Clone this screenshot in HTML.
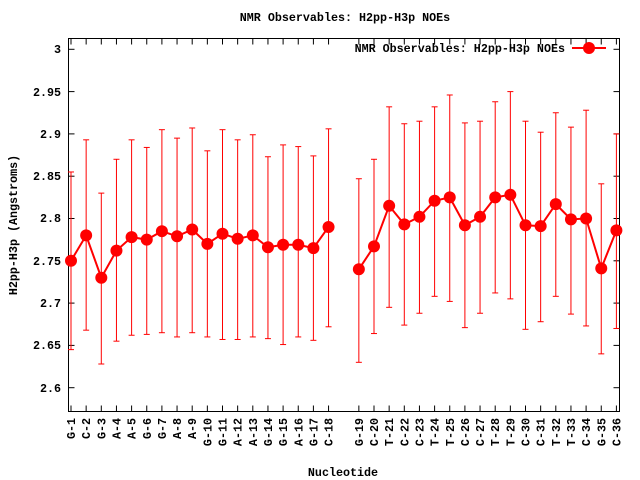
<!DOCTYPE html>
<html><head><style>
body{margin:0;background:#fff;}
svg{display:block;font-family:"Liberation Mono",monospace;font-weight:bold;font-size:11.7px;}
</style></head><body>
<svg id="s" width="640" height="480" xmlns="http://www.w3.org/2000/svg">
<rect width="640" height="480" fill="#fff"/>
<text x="345" y="21" text-anchor="middle">NMR Observables: H2pp-H3p NOEs</text>
<text x="343" y="476" text-anchor="middle">Nucleotide</text>
<text transform="translate(17,225) rotate(-90)" text-anchor="middle">H2pp-H3p (Angstroms)</text>
<g text-anchor="end">
<text x="61" y="53">3</text>
<text x="61" y="96">2.95</text>
<text x="61" y="138">2.9</text>
<text x="61" y="180">2.85</text>
<text x="61" y="222">2.8</text>
<text x="61" y="265">2.75</text>
<text x="61" y="307">2.7</text>
<text x="61" y="349">2.65</text>
<text x="61" y="392">2.6</text>
</g>
<text x="565" y="52" text-anchor="end">NMR Observables: H2pp-H3p NOEs</text>
<g id="xl" text-anchor="end"></g>
<g id="g"></g>
</svg>
<script>
var names=["G-1","C-2","G-3","A-4","A-5","G-6","G-7","A-8","A-9","G-10","G-11","A-12","A-13","G-14","G-15","A-16","G-17","C-18",null,"G-19","C-20","T-21","C-22","C-23","T-24","T-25","C-26","C-27","T-28","T-29","C-30","C-31","T-32","T-33","C-34","G-35","C-36"];
var d=[[2.75,2.855,2.645],[2.78,2.893,2.668],[2.73,2.83,2.628],[2.762,2.87,2.655],[2.778,2.893,2.662],[2.775,2.884,2.663],[2.785,2.905,2.665],[2.779,2.895,2.66],[2.787,2.907,2.665],[2.77,2.88,2.66],[2.782,2.905,2.657],[2.776,2.893,2.657],[2.78,2.899,2.66],[2.766,2.873,2.658],[2.769,2.887,2.651],[2.769,2.885,2.66],[2.765,2.874,2.656],[2.79,2.906,2.672],null,[2.74,2.847,2.63],[2.767,2.87,2.664],[2.815,2.932,2.695],[2.793,2.912,2.674],[2.802,2.915,2.688],[2.821,2.932,2.708],[2.825,2.946,2.702],[2.792,2.913,2.671],[2.802,2.915,2.688],[2.825,2.938,2.712],[2.828,2.95,2.705],[2.792,2.915,2.669],[2.791,2.902,2.678],[2.817,2.925,2.708],[2.799,2.908,2.687],[2.8,2.928,2.673],[2.741,2.841,2.64],[2.786,2.9,2.67]];
function X(i){return 71+i*15.15;}
function Y(v){return 49.3+(3-v)*846;}
var g=document.getElementById('g'),h='';
var L=68.5,R=619.5,T=38.5,B=411.5;
for(var v=0;v<9;v++){var y=Y(3-v*0.05);h+='<line x1="'+L+'" y1="'+y+'" x2="'+(L+6)+'" y2="'+y+'" stroke="#000"/><line x1="'+R+'" y1="'+y+'" x2="'+(R-6)+'" y2="'+y+'" stroke="#000"/>';}
for(var i=0;i<37;i++){if(!names[i])continue;var x=X(i);
h+='<line x1="'+x+'" y1="'+B+'" x2="'+x+'" y2="'+(B-6)+'" stroke="#000"/><line x1="'+x+'" y1="'+T+'" x2="'+x+'" y2="'+(T+6)+'" stroke="#000"/>';}
h+='<rect x="'+L+'" y="'+T+'" width="'+(R-L)+'" height="'+(B-T)+'" fill="none" stroke="#000"/>';
for(var i=0;i<37;i++){var p=d[i];if(!p)continue;var x=X(i);var a=Y(p[1]),b=Y(p[2]);
h+='<line x1="'+x+'" y1="'+a+'" x2="'+x+'" y2="'+b+'" stroke="#f00"/><line x1="'+(x-3)+'" y1="'+a+'" x2="'+(x+3)+'" y2="'+a+'" stroke="#f00"/><line x1="'+(x-3)+'" y1="'+b+'" x2="'+(x+3)+'" y2="'+b+'" stroke="#f00"/>';}
function poly(s,e){var q=[];for(var i=s;i<=e;i++)q.push(X(i)+','+Y(d[i][0]));return '<polyline points="'+q.join(' ')+'" fill="none" stroke="#f00" stroke-width="2"/>';}
h+=poly(0,17)+poly(19,36);
for(var i=0;i<37;i++){if(!d[i])continue;h+='<circle cx="'+X(i)+'" cy="'+Y(d[i][0])+'" r="6" fill="#f00"/>';}
h+='<line x1="572" y1="48" x2="606" y2="48" stroke="#f00" stroke-width="2"/><circle cx="589" cy="48" r="6" fill="#f00"/>';
g.innerHTML=h;
var xl=document.getElementById('xl'),t='';
for(var i=0;i<37;i++){if(!names[i])continue;t+='<text transform="translate('+(X(i)+4)+',418) rotate(-90)">'+names[i]+'</text>';}
xl.innerHTML=t;
</script>
</body></html>
